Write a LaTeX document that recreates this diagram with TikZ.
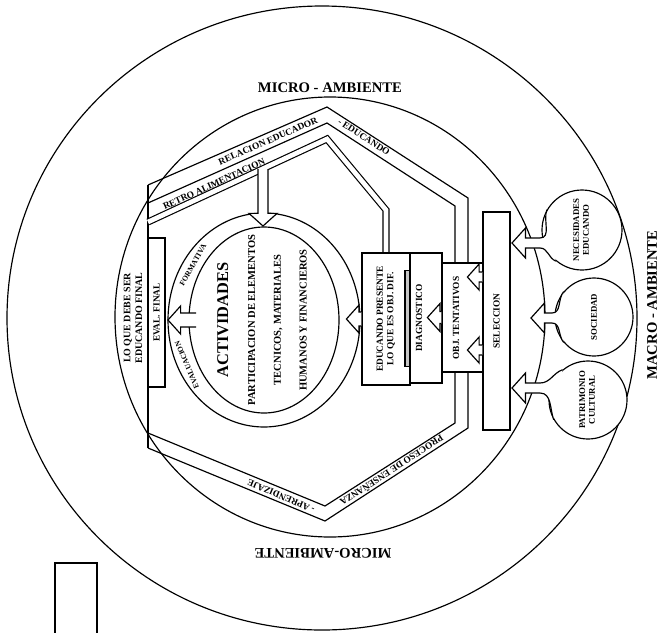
\documentclass[tikz,border=0pt]{standalone}
\usepackage{fontspec}
\setmainfont{Liberation Serif}
\usepackage{graphicx}
\usetikzlibrary{calc}

% hollow block arrow: base point, direction, length, head half-width, shaft half-width
\newcommand{\hollowarrow}[5]{%
  \begin{scope}[shift={(#1)},rotate=#2]
    \draw[harrow] (0,-#5) -- ({-#3+0.9*#4},-#5) -- ({-#3+0.9*#4},-#4) -- (-#3,0)
      -- ({-#3+0.9*#4},#4) -- ({-#3+0.9*#4},#5) -- (0,#5);
  \end{scope}}

\begin{document}
\begin{tikzpicture}[x=0.03cm,y=-0.03cm,line width=1pt,
  box/.style={draw,fill=white,inner sep=0pt,font=\fontsize{8}{9}\selectfont\bfseries},
  bub/.style={draw,circle,fill=white,inner sep=0pt,font=\fontsize{7.5}{8.5}\selectfont\bfseries},
  lbl/.style={inner sep=0pt,font=\fontsize{8}{9}\selectfont\bfseries},
  band/.style={inner sep=0pt,font=\fontsize{8}{9}\selectfont\bfseries},
  ringtxt/.style={inner sep=0pt,font=\fontsize{6.5}{7}\selectfont\bfseries},
  amb/.style={inner sep=0pt,font=\fontsize{12.5}{14}\selectfont\bfseries},
  harrow/.style={draw,fill=white,line join=miter},
  retro/.style={double,double distance=4pt,line join=miter}]
  \useasboundingbox (0,0) rectangle (667,632);
  \clip (0,0) rectangle (667,632);

  % macro and micro environment
  \draw (322,318) ellipse [x radius=315,y radius=312];
  \draw (330,317) ellipse [x radius=215,y radius=220];
  \node[amb] (microtop) at (330,88) {MICRO - AMBIENTE};
  \node[amb,rotate=180] (microbot) at (323,553) {MICRO-AMBIENTE};
  \node[amb,rotate=90] (macro) at (652,305) {MACRO - AMBIENTE};
  \node[draw,minimum width=1.26cm,minimum height=2.4cm] (legend) at (76,603) {};

  % band of the hexagon
  \draw (148,185) -- (327,107) -- (468,198) -- (468,263);
  \draw (148,203) -- (327,123) -- (455,206) -- (455,263);
  \draw (468,372) -- (468,428) -- (325,521) -- (148,448);
  \draw (455,372) -- (455,423) -- (325,506) -- (148,433);
  \draw (148,185) -- (148,448);
  \draw[retro] (386,253) -- (386,210) -- (327,139) -- (148,222);

  % boxes
  \node[box,minimum width=0.51cm,minimum height=4.47cm] (eval) at (156.5,312.5) {\rotatebox{90}{EVAL. FINAL}};
  \node[box,minimum width=1.44cm,minimum height=3.96cm] (edu) at (386,319)
    {\rotatebox{90}{\begin{tabular}{@{}c@{}}EDUCANDO PRESENTE\\LO QUE ES OBJ. DIF.\end{tabular}}};
  \node[box,minimum width=0.96cm,minimum height=3.9cm] (diag) at (426,318) {};
  \node[box,minimum width=1.23cm,minimum height=3.27cm] (obj) at (462.5,317.5) {};
  \node[box,minimum width=0.81cm,minimum height=6.54cm] (sel) at (496.5,321) {\rotatebox{90}{SELECCION}};
  \node[draw,fill=gray!45,inner sep=0pt,minimum width=0.15cm,minimum height=2.9cm] (bar) at (407.5,318.5) {};
  \node[lbl,rotate=90] (diagtxt) at (419,318) {DIAGNOSTICO};
  \node[lbl,rotate=90] (objtxt) at (456,318) {OBJ. TENTATIVOS};

  % activities ring
  \draw (264,320) ellipse [x radius=96,y radius=107];
  \draw (264,320) ellipse [x radius=75,y radius=93];
  \node[lbl,rotate=90,align=center,font=\fontsize{9}{22}\selectfont\bfseries] (act) at (262,320)
    {{\fontsize{14}{14}\selectfont ACTIVIDADES}\\[1pt]PARTICIPACION DE ELEMENTOS\\TECNICOS, MATERIALES\\HUMANOS Y FINANCIEROS};
  \node[ringtxt,rotate=60] (form) at (193,265) {FORMATIVA};
  \node[ringtxt,rotate=113] (evalu) at (187,365) {EVALUACION};
  \node[lbl,rotate=90,align=center,font=\fontsize{8.5}{10}\selectfont\bfseries] (goal) at (133,318) {LO QUE DEBE SER\\EDUCANDO FINAL};

  % environment bubbles
  \node[bub,minimum size=2.4cm] (nec) at (582,230) {\rotatebox{90}{\begin{tabular}{@{}c@{}}NECESIDADES\\EDUCANDO\end{tabular}}};
  \node[bub,minimum size=2.34cm] (soc) at (594,317) {\rotatebox{90}{SOCIEDAD}};
  \node[bub,minimum size=2.34cm] (pat) at (588,400) {\rotatebox{90}{\begin{tabular}{@{}c@{}}PATRIMONIO\\CULTURAL\end{tabular}}};
  \fill[white] (nec.150) to[out=250,in=0] (540,238) -- (540,248) to[out=0,in=160] (nec.230) -- cycle;
  \draw (nec.150) to[out=250,in=0] (540,238) (540,248) to[out=0,in=160] (nec.230);
  \fill[white] (soc.140) to[out=230,in=0] (552,313) -- (552,323) to[out=0,in=130] (soc.220) -- cycle;
  \draw (soc.140) to[out=230,in=0] (552,313) (552,323) to[out=0,in=130] (soc.220);
  \fill[white] (pat.130) to[out=200,in=0] (540,383) -- (540,393) to[out=0,in=110] (pat.210) -- cycle;
  \draw (pat.130) to[out=200,in=0] (540,383) (540,393) to[out=0,in=110] (pat.210);

  % hollow arrows
  \hollowarrow{263,169}{90}{57}{14}{5}
  \hollowarrow{edu.west}{0}{15}{14}{7}
  \hollowarrow{196,320}{0}{28}{14}{7}
  \hollowarrow{obj.west}{0}{14}{14}{6}
  \hollowarrow{$(sel.west)+(0,-44)$}{0}{15}{13}{5}
  \hollowarrow{$(sel.west)+(0,29)$}{0}{15}{13}{5}
  \hollowarrow{540,243}{0}{28}{15}{5}
  \hollowarrow{552,318}{0}{21}{15}{5}
  \hollowarrow{540,388}{0}{28}{15}{5}

  % band labels
  \node[band,rotate=23.5] (rel) at (268,141) {RELACION EDUCADOR};
  \node[band,rotate=-33] (edc) at (364,137) {- EDUCANDO};
  \node[band,rotate=24.6] (retrotxt) at (214,184) {RETRO ALIMENTACION};
  \node[band,rotate=-147] (proc) at (392,471) {PROCESO DE ENSEÑANZA};
  \node[band,rotate=157] (apr) at (281,496) {- APRENDIZAJE};
\end{tikzpicture}
\end{document}
